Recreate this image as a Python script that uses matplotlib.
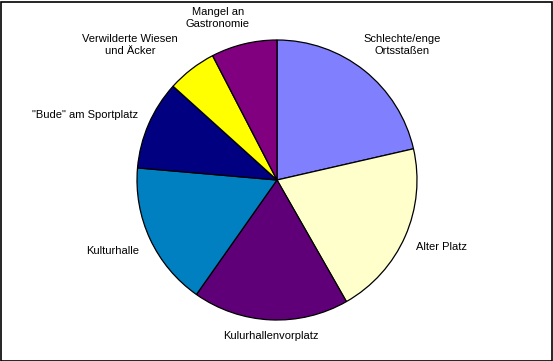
import matplotlib
matplotlib.use('Agg')
import matplotlib.pyplot as plt
from matplotlib.patches import Rectangle

# Slice shares in percent, clockwise from 12 o'clock
labels = ['Schlechte/enge\nOrtsstaßen', 'Alter Platz', 'Kulurhallenvorplatz', 'Kulturhalle',
          '"Bude" am Sportplatz', 'Verwilderte Wiesen\nund Äcker', 'Mangel an\nGastronomie']
values = [21.4, 20.3, 18.0, 16.6, 10.3, 5.7, 7.6]
colors = ['#8080ff', '#ffffcc', '#600078', '#0080c0', '#000080', '#ffff00', '#800080']

# label anchor positions in pixels (x, y from top)
label_pos = [(402, 45), (441, 247), (271, 336), (113, 251), (85, 115), (130, 45), (218, 18)]

W, H = 553, 361
fig = plt.figure(figsize=(W / 100, H / 100), dpi=100)
fig.patch.set_facecolor('white')

# pie centre (277, 180) radius 140 px
cx, cy, r = 277, 180, 140
ax = fig.add_axes([(cx - r) / W, (H - cy - r) / H, 2 * r / W, 2 * r / H])
ax.pie(values, colors=colors, startangle=90, counterclock=False,
       wedgeprops=dict(edgecolor='black', linewidth=0.9))
ax.set_aspect('auto')
ax.set_xlim(-1, 1)
ax.set_ylim(-1, 1)
ax.axis('off')

for lab, (x, y) in zip(labels, label_pos):
    fig.text(x / W, 1 - y / H, lab, ha='center', va='center',
             fontsize=8, family=['Liberation Sans', 'DejaVu Sans'], linespacing=1.3)

# chart frame
fig.patches.append(Rectangle((0.5 / W, 0.5 / H), (W - 2) / W, (H - 2) / H,
                             transform=fig.transFigure, fill=False,
                             edgecolor='black', linewidth=1.2))

fig.savefig('out.png', dpi=100)
